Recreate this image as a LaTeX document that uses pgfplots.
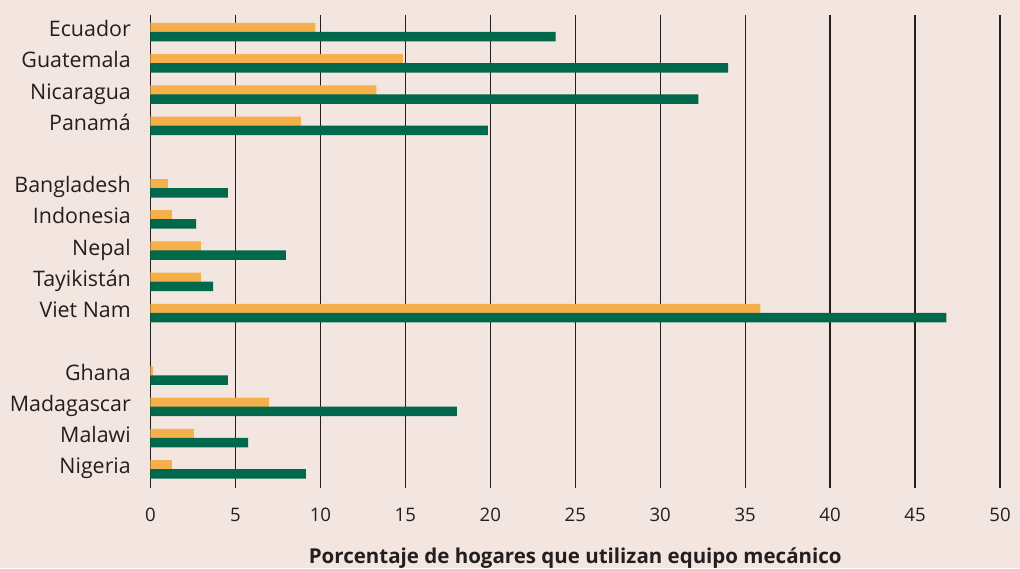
\documentclass[border=0pt]{standalone}
\usepackage{pgfplots}
\pgfplotsset{compat=1.18}
\usepackage{fontspec}
\setmainfont{Open Sans}
\definecolor{bg}{HTML}{F3E6E1}
\definecolor{orng}{HTML}{F5B04C}
\definecolor{grn}{HTML}{00694C}
\definecolor{txt}{HTML}{231F20}
\begin{document}
\begin{tikzpicture}
\fill[bg] (-150.5bp,-80bp) rectangle (869.5bp,488bp);
\begin{axis}[
  at={(0,0)}, anchor=south west,
  scale only axis, width=849.5bp, height=473bp,
  xmin=0, xmax=50, ymin=-0.55, ymax=14.6, y dir=reverse,
  xtick={0,5,...,50},
  ytick={0,1,2,3,5,6,7,8,9,11,12,13,14},
  yticklabels={Ecuador,Guatemala,Nicaragua,Panamá,Bangladesh,Indonesia,Nepal,Tayikistán,Viet Nam,Ghana,Madagascar,Malawi,Nigeria},
  xmajorgrids, grid style={txt, line width=1.25bp},
  axis line style={draw=none},
  major tick length=0pt,
  /pgf/number format/assume math mode=true,
  xticklabel style={font=\fontsize{18.6bp}{20bp}\selectfont, text=txt, anchor=base, inner sep=0pt, yshift=-33.7bp},
  yticklabel style={font=\fontsize{21.4bp}{24bp}\selectfont, text=txt, anchor=base east, inner sep=0pt, xshift=-19.5bp, yshift=-4.5bp},
  xlabel={Porcentaje de hogares que utilizan equipo mecánico},
  xlabel style={font=\bfseries\fontsize{20.5bp}{24bp}\selectfont, text=txt, at={(axis description cs:0.5,0)}, anchor=base, inner sep=0pt, yshift=-75.3bp},
  xbar, bar width=9.5bp,
]
\addplot[fill=orng, draw=none, bar shift=4.5bp] coordinates {
(9.7,0) (14.85,1) (13.3,2) (8.85,3)
(1.03,5) (1.26,6) (2.97,7) (2.97,8) (35.9,9)
(0.15,11) (6.97,12) (2.56,13) (1.26,14)};
\addplot[fill=grn, draw=none, bar shift=-4.5bp] coordinates {
(23.85,0) (34.0,1) (32.25,2) (19.85,3)
(4.56,5) (2.68,6) (7.97,7) (3.68,8) (46.85,9)
(4.56,11) (18.03,12) (5.74,13) (9.15,14)};
\end{axis}
\end{tikzpicture}
\end{document}
